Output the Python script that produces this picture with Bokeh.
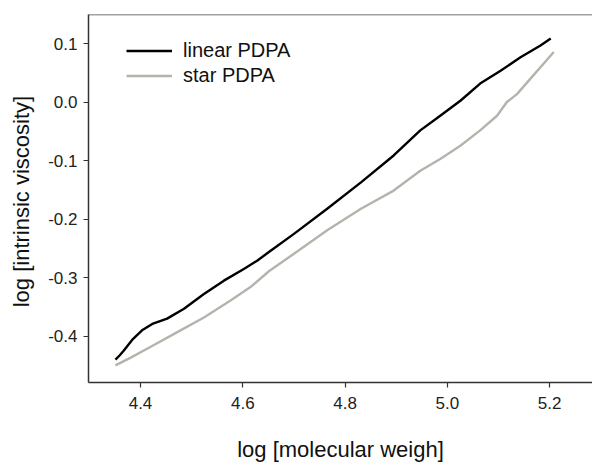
from bokeh.plotting import figure
from bokeh.models import FixedTicker, Span, Legend, LegendItem, Range1d
from bokeh.embed import file_html
from bokeh.resources import INLINE

# Data
linear_x = [4.351, 4.359, 4.367, 4.384, 4.403, 4.423, 4.452, 4.485, 4.524, 4.563, 4.602,
            4.628, 4.651, 4.700, 4.765, 4.831, 4.895, 4.947, 4.986, 5.026, 5.064,
            5.104, 5.143, 5.182, 5.202]
linear_y = [-0.440, -0.433, -0.425, -0.406, -0.390, -0.379, -0.370, -0.353, -0.328, -0.305, -0.285,
            -0.271, -0.256, -0.225, -0.182, -0.137, -0.091, -0.048, -0.023, 0.003, 0.032,
            0.054, 0.077, 0.097, 0.109]

star_x = [4.351, 4.380, 4.420, 4.472, 4.524, 4.576, 4.615, 4.651, 4.700, 4.765, 4.831,
          4.895, 4.947, 4.986, 5.026, 5.064, 5.097, 5.116, 5.136, 5.168, 5.188, 5.208]
star_y = [-0.450, -0.437, -0.418, -0.393, -0.368, -0.339, -0.316, -0.289, -0.259, -0.219, -0.182,
          -0.151, -0.117, -0.097, -0.074, -0.048, -0.023, 0.000, 0.014, 0.046, 0.066, 0.086]

x_ticks = [4.4, 4.6, 4.8, 5.0, 5.2]
x_tick_labels = ["4.4", "4.6", "4.8", "5.0", "5.2"]
y_ticks = [0.1, 0.0, -0.1, -0.2, -0.3, -0.4]
y_tick_labels = ["0.1", "0.0", "-0.1", "-0.2", "-0.3", "-0.4"]

series_names = ["linear PDPA", "star PDPA"]
series_colors = ["#000000", "#b4b4ac"]

FONT = "Liberation Sans"

p = figure(width=592, height=465, output_backend="svg", toolbar_location=None,
           x_range=Range1d(4.2983, 5.2837), y_range=Range1d(-0.4792, 0.1501),
           min_border_left=88, min_border_right=0, min_border_top=14, min_border_bottom=83)

p.background_fill_color = "white"
p.border_fill_color = "white"
p.outline_line_color = None
p.xgrid.visible = False
p.ygrid.visible = False

r1 = p.line(linear_x, linear_y, line_color=series_colors[0], line_width=2.4, line_join="round")
r2 = p.line(star_x, star_y, line_color=series_colors[1], line_width=2.4, line_join="round")

# top border of the frame
p.add_layout(Span(location=0.1501, dimension="width", line_color="#444444", line_width=1.5))

for ax in (p.xaxis[0], p.yaxis[0]):
    ax.axis_line_color = "#333333"
    ax.axis_line_width = 1.5
    ax.major_tick_line_color = "#333333"
    ax.major_tick_line_width = 1.2
    ax.major_tick_in = 0
    ax.major_tick_out = 5
    ax.minor_tick_line_color = None
    ax.major_label_text_font = FONT
    ax.major_label_text_font_size = "17px"
    ax.major_label_text_color = "#222222"
    ax.axis_label_text_font = FONT
    ax.axis_label_text_font_size = "22px"
    ax.axis_label_text_font_style = "normal"
    ax.axis_label_text_color = "#111111"

p.xaxis[0].ticker = FixedTicker(ticks=x_ticks)
p.xaxis[0].major_label_overrides = dict(zip(x_ticks, x_tick_labels))
p.yaxis[0].ticker = FixedTicker(ticks=y_ticks)
p.yaxis[0].major_label_overrides = dict(zip(y_ticks, y_tick_labels))

p.xaxis[0].axis_label = "log [molecular weigh]"
p.yaxis[0].axis_label = "log  [intrinsic viscosity]"
p.xaxis[0].major_label_standoff = 9
p.xaxis[0].axis_label_standoff = 25
p.yaxis[0].major_label_standoff = 6
p.yaxis[0].axis_label_standoff = 11

legend = Legend(items=[LegendItem(label=series_names[0], renderers=[r1]),
                       LegendItem(label=series_names[1], renderers=[r2])],
                location=(38, 294), padding=10, margin=0, spacing=0,
                glyph_width=46, glyph_height=25, label_height=25, label_standoff=11,
                border_line_color=None, background_fill_alpha=0,
                label_text_font=FONT, label_text_font_size="20px", label_text_color="#111111")
p.add_layout(legend)

open("out.html", "w").write(file_html(p, INLINE))
